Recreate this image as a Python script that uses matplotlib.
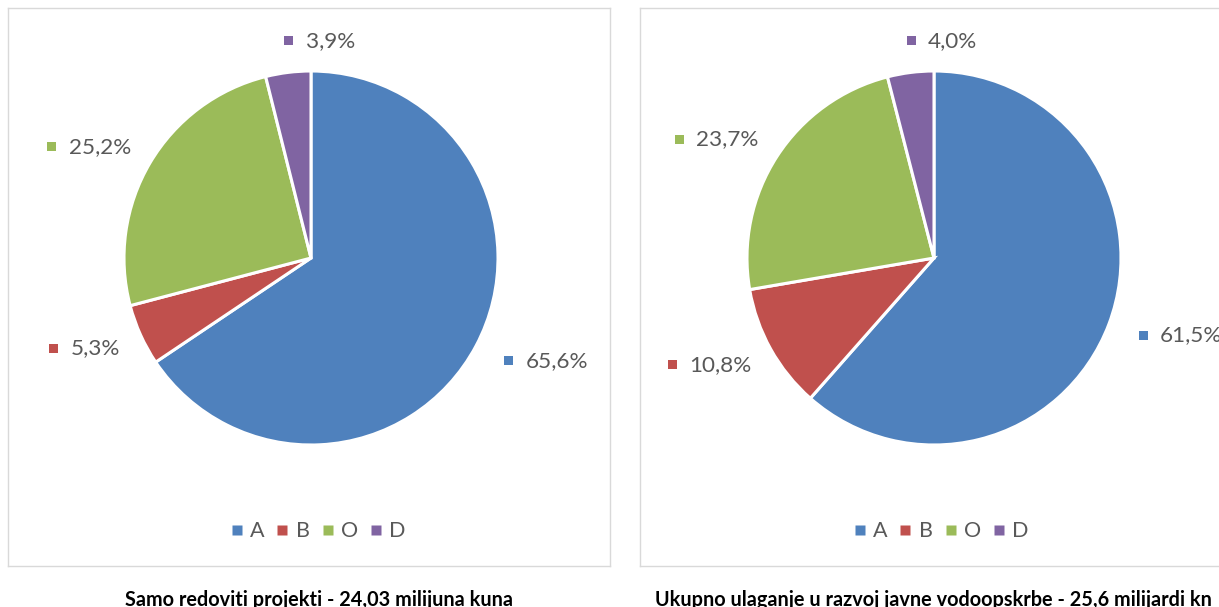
import numpy as np
import matplotlib
matplotlib.use("Agg")
import matplotlib.pyplot as plt
from matplotlib.lines import Line2D
from matplotlib.offsetbox import DrawingArea, TextArea, HPacker, AnnotationBbox
from matplotlib.patches import Rectangle

plt.rcParams['font.family'] = ['Lato', 'DejaVu Sans']

categories = ["A", "B", "O", "D"]
left_values = [65.6, 5.3, 25.2, 3.9]
right_values = [61.5, 10.8, 23.7, 4.0]
left_labels = ["65,6%", "5,3%", "25,2%", "3,9%"]
right_labels = ["61,5%", "10,8%", "23,7%", "4,0%"]
left_title = "Samo redoviti projekti - 24,03 milijuna kuna"
right_title = "Ukupno ulaganje u razvoj javne vodoopskrbe - 25,6 milijardi kn"

colors = ["#4F81BD", "#C0504D", "#9BBB59", "#8064A2"]
text_gray = "#595959"

W, H = 1219, 607
DPI = 100
fig = plt.figure(figsize=(W / DPI, H / DPI), dpi=DPI)

R_PX = 187.0  # pie radius in pixels


def panel(x0, box_w, cx_rel, values, labels, title, title_x):
    top, bottom = 8, 566
    box_h = bottom - top
    ax = fig.add_axes([x0 / W, (H - bottom) / H, box_w / W, box_h / H])
    cy_rel = bottom - 258
    wedges, _ = ax.pie(values, colors=colors, startangle=90, counterclock=False,
                       radius=1.0, center=(0, 0),
                       wedgeprops=dict(edgecolor="white", linewidth=2.2))
    ax.set_aspect('auto')
    ax.set_xlim(-cx_rel / R_PX, (box_w - cx_rel) / R_PX)
    ax.set_ylim(-cy_rel / R_PX, (box_h - cy_rel) / R_PX)
    ax.set_frame_on(True)
    for s in ax.spines.values():
        s.set_color("#d9d9d9")
        s.set_linewidth(1.0)
    ax.set_xticks([])
    ax.set_yticks([])

    # data labels
    for w, lab, col in zip(wedges, labels, colors):
        th = np.deg2rad((w.theta1 + w.theta2) / 2)
        ux, uy = np.cos(th), np.sin(th)
        rr = 1.17
        da = DrawingArea(6.5, 6.5, 0, 0)
        da.add_artist(Rectangle((0, 0), 6.5, 6.5, facecolor=col, edgecolor="none"))
        ta = TextArea(lab, textprops=dict(color=text_gray, fontsize=16.2))
        box = HPacker(children=[da, ta], align="center", pad=0, sep=9.0)
        if ux >= -0.2:
            bx, dx = 0.0, 0.0
        else:
            bx, dx = 1.0, 0.045
        ab = AnnotationBbox(box, (rr * ux + dx, rr * uy), xycoords='data',
                            box_alignment=(bx, 0.5), frameon=False, pad=0)
        ax.add_artist(ab)

    handles = [Line2D([], [], marker='s', linestyle='none', markersize=6.5,
                      markerfacecolor=c, markeredgecolor='none') for c in colors]
    cx_frac = cx_rel / box_w + 0.012
    ax.legend(handles, categories, loc='center', bbox_to_anchor=(cx_frac, 0.062),
              ncol=4, frameon=False, fontsize=15.5, labelcolor=text_gray,
              handlelength=0.55, handletextpad=0.35, columnspacing=0.55,
              borderpad=0)

    fig.text(title_x / W, (H - 606) / H, title, ha='center', va='baseline',
             fontsize=14.3, fontweight='bold', color='black')
    return ax


panel(8, 602, 303, left_values, left_labels, left_title, 319)
panel(640, 602, 294, right_values, right_labels, right_title, 933)

fig.savefig("out.png", dpi=DPI, facecolor="white")
